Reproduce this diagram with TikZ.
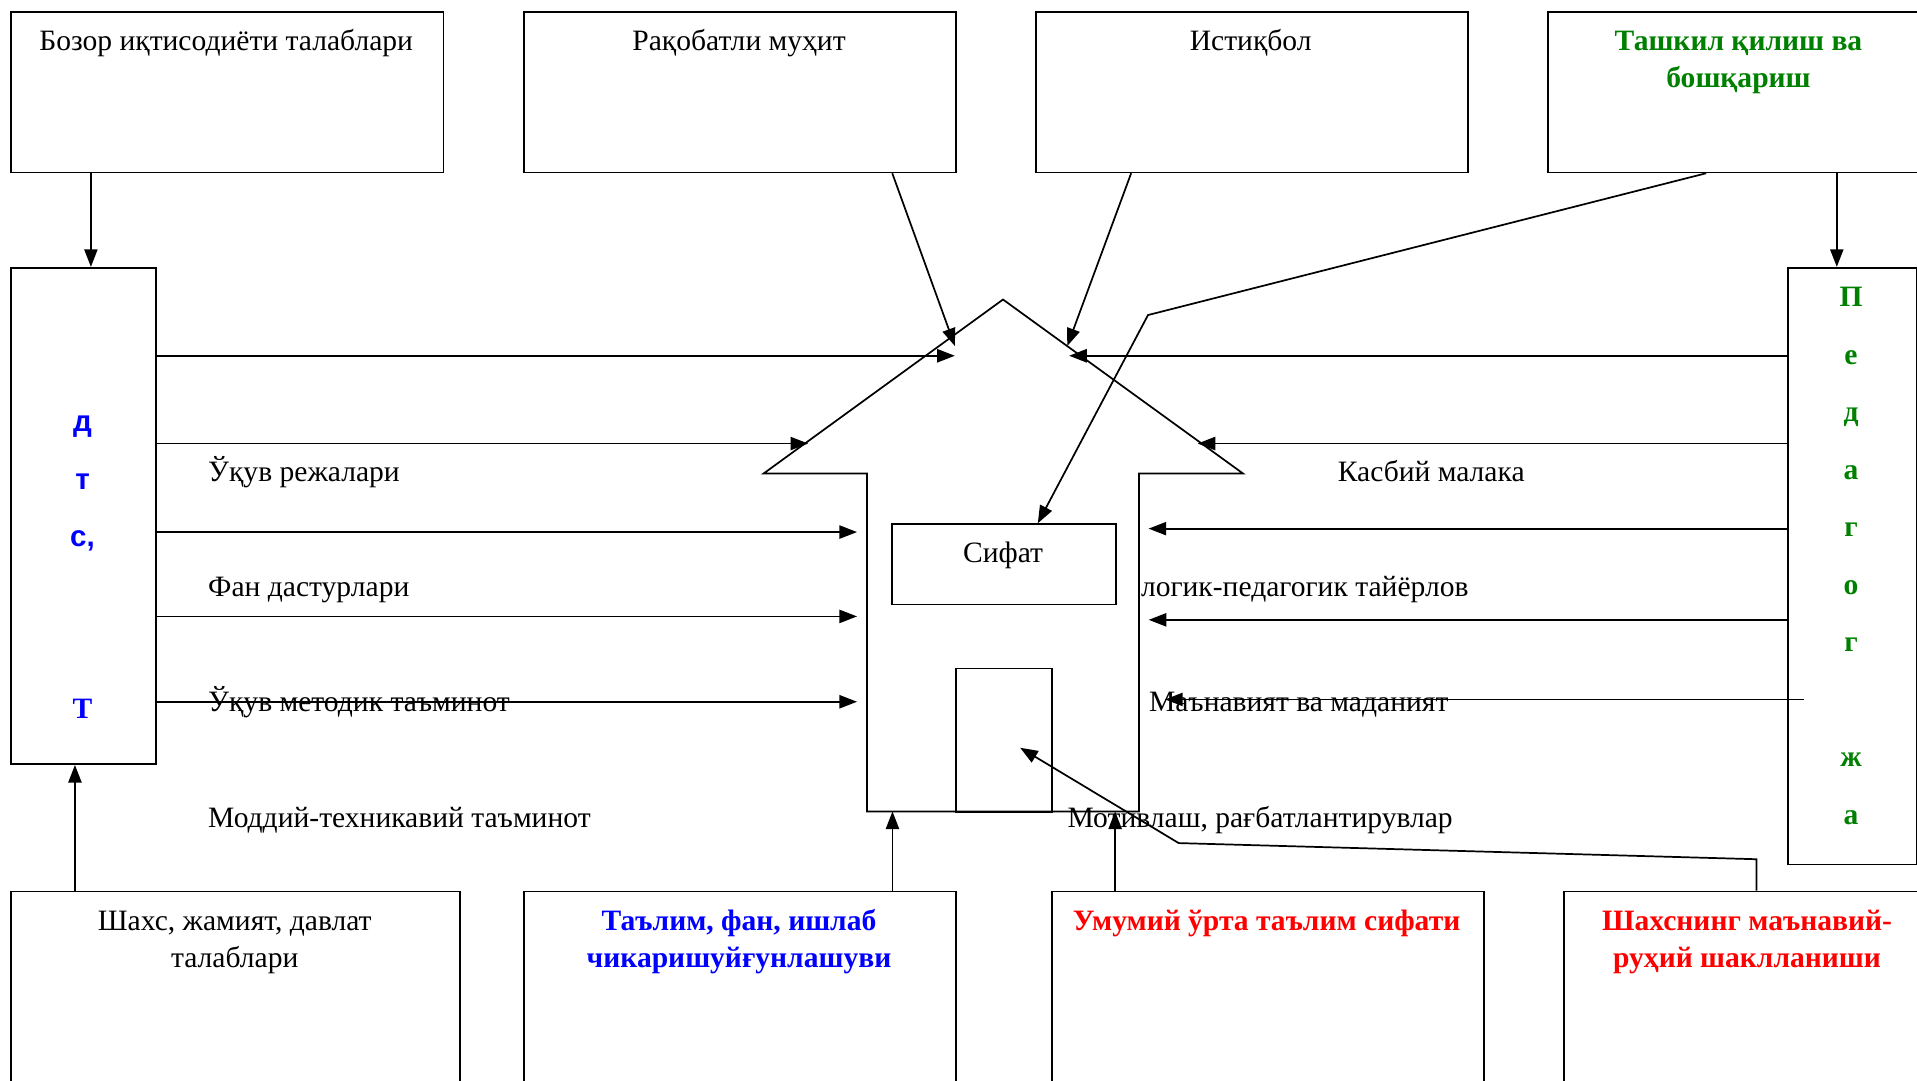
\documentclass[tikz,border=0pt]{standalone}
\usepackage{fontspec}
\setmainfont{Liberation Serif}
\newfontfamily\dtsfont{Liberation Sans}
\usepackage{xcolor}
\definecolor{darkgreen}{RGB}{0,128,0}
\definecolor{pureblue}{RGB}{0,0,255}
\definecolor{purered}{RGB}{255,0,0}
\usepackage{tikz}
\usetikzlibrary{calc}
\usetikzlibrary{arrows.meta}
\newcommand{\widthtop}{88.4mm}
\newcommand{\heighttop}{32.75mm}
\newcommand{\heightbottom}{50mm}
\newcommand{\textsize}{\fontsize{17.2pt}{7.5mm}\selectfont}
\tikzset{
    common/.style={anchor=north west, draw, rectangle, inner sep=0pt, line width=1pt},
    topbox/.style={common, minimum width=\widthtop, minimum height=\heighttop},
    bottombox/.style={common, minimum height=\heightbottom},
    caption/.style={anchor=base, align=center, inner sep=0pt, font=\textsize},
    boldcaption/.style={caption, font=\textsize\bfseries},
    flowlabel/.style={anchor=base west, inner sep=0pt, font=\textsize},
    letters/.style={anchor=base, align=center, inner sep=0pt, font=\bfseries\fontsize{17.2pt}{11.75mm}\selectfont},
    feed/.style={-{Triangle[length=3.6mm, width=2.7mm]}, line width=1pt},
    plain/.style={line width=1pt}
}
\begin{document}
\begin{tikzpicture}[x=0.25mm, y=-0.25mm]
    \useasboundingbox (0,0) rectangle (1568,884);

    \node[topbox] (bozor) at (8.5,9.3) {};
    \node[topbox] (raqobat) at (427.7,9.3) {};
    \node[topbox] (istiqbol) at (846.4,9.3) {};
    \node[topbox] (tashkil) at (1265.6,9.3) {};
    \node[caption] (bozortext) at (185,41.5) {Бозор иқтисодиёти талаблари};
    \node[caption] (raqobattext) at (604.5,41.5) {Рақобатли муҳит};
    \node[caption] (istiqboltext) at (1023,41.5) {Истиқбол};
    \node[boldcaption, darkgreen] (tashkiltext) at (1422,71.5) {Ташкил қилиш ва\\бошқариш};

    \node[common, minimum width=29.55mm, minimum height=101.5mm] (dts) at (8.5,218.3) {};
    \node[common, minimum width=26.2mm, minimum height=122mm] (ped) at (1462,218.3) {};
    \node[letters, pureblue] (dtstext) at (67.5,588) {\dtsfont д\\\dtsfont т\\\dtsfont с,\\ \\ \\Т};
    \node[letters, darkgreen] (pedtext) at (1514,674) {П\\е\\д\\а\\г\\о\\г\\ \\ж\\а};

    \coordinate (peak) at (820.4,245);
    \coordinate (lefteave) at (624.6,387.3);
    \coordinate (righteave) at (1016.7,387.3);
    \coordinate (houseleft) at (709.2,663.7);
    \coordinate (houseright) at (931.6,663.7);
    \draw[plain] (peak) -- (righteave) -- (houseright |- righteave) -- (houseright)
        -- (houseleft) -- (houseleft |- lefteave) -- (lefteave) -- cycle;
    \node[common, minimum width=45.75mm, minimum height=16.45mm] (sifat) at (729,428) {};
    \node[caption] (sifattext) at (820.5,460) {Сифат};
    \node[common, minimum width=19.65mm, minimum height=29.4mm] (door) at (781.4,546) {};

    \node[bottombox, minimum width=91.7mm] (shaxs) at (8.5,728.5) {};
    \node[bottombox, minimum width=\widthtop] (talim) at (427.7,728.5) {};
    \node[bottombox, minimum width=88.25mm] (umumiy) at (860,728.5) {};
    \node[bottombox, minimum width=\widthtop] (manaviy) at (1278.7,728.5) {};
    \node[caption] (shaxstext) at (192,791.5) {Шахс, жамият, давлат\\талаблари};
    \node[boldcaption, pureblue] (talimtext) at (604.5,791.5) {Таълим, фан, ишлаб\\чикаришуйғунлашуви};
    \node[boldcaption, purered] (umumiytext) at (1036,761) {Умумий ўрта таълим сифати};
    \node[boldcaption, purered] (manaviytext) at (1429,791.5) {Шахснинг маънавий-\\руҳий шаклланиши};

    \node[flowlabel] (rejalar) at (170,393.5) {Ўқув режалари};
    \node[flowlabel] (dasturlar) at (170,487.5) {Фан дастурлари};
    \node[flowlabel] (metodik) at (170,582) {Ўқув методик таъминот};
    \node[flowlabel] (moddiy) at (170,676.5) {Моддий-техникавий таъминот};
    \node[flowlabel] (malaka) at (1094,393.5) {Касбий малака};
    \node[flowlabel] (tayyorlov) at (933,487.5) {логик-педагогик тайёрлов};
    \node[flowlabel] (madaniyat) at (939.6,582) {Маънавият ва маданият};
    \node[flowlabel] (motivlash) at (873,676.5) {Мотивлаш, рағбатлантирувлар};

    \coordinate (dtsA) at (781,291);
    \coordinate (dtsB) at (661,362.8);
    \coordinate (dtsC) at (701,435.2);
    \coordinate (dtsD) at (701,504.2);
    \coordinate (dtsE) at (701,574);
    \coordinate (pedA) at (874.5,291);
    \coordinate (pedB) at (979.6,362.8);
    \coordinate (pedC) at (939.5,432.4);
    \coordinate (pedD) at (939.6,507);
    \coordinate (pedE) at (953,572.1);
    \coordinate (pedEstart) at (1475.5,572.1);
    \draw[feed] (dts.east |- dtsA) -- (dtsA);
    \draw[feed] (dts.east |- dtsB) -- (dtsB);
    \draw[feed] (dts.east |- dtsC) -- (dtsC);
    \draw[feed] (dts.east |- dtsD) -- (dtsD);
    \draw[feed] (dts.east |- dtsE) -- (dtsE);
    \draw[feed] (ped.west |- pedA) -- (pedA);
    \draw[feed] (ped.west |- pedB) -- (pedB);
    \draw[feed] (ped.west |- pedC) -- (pedC);
    \draw[feed] (ped.west |- pedD) -- (pedD);
    \draw[feed] (pedEstart) -- (pedE);

    \coordinate (raqobattip) at (781,283);
    \coordinate (istiqboltip) at (873,283);
    \coordinate (tashkilbend) at (939,257.7);
    \coordinate (manaviybend) at (964.1,689.6);
    \coordinate (doortip) at (834.4,611.6);
    \draw[feed] ($(bozor.south west)!0.1855!(bozor.south east)$) coordinate (bozorfoot)
        -- (bozorfoot |- dts.north);
    \draw[feed] ($(raqobat.south west)!0.851!(raqobat.south east)$) -- (raqobattip);
    \draw[feed] ($(istiqbol.south west)!0.222!(istiqbol.south east)$) -- (istiqboltip);
    \draw[feed] ($(tashkil.south west)!0.366!(tashkil.south east)$) -- (tashkilbend)
        -- ($(sifat.north west)!0.65!(sifat.north east)$);
    \draw[feed] ($(tashkil.south west)!0.667!(tashkil.south east)$) coordinate (tashkilfoot)
        -- (tashkilfoot |- ped.north);
    \draw[feed] ($(shaxs.north west)!0.1434!(shaxs.north east)$) coordinate (shaxshead)
        -- (shaxshead |- dts.south);
    \draw[feed] ($(talim.north west)!0.8515!(talim.north east)$) coordinate (talimhead)
        -- (talimhead |- houseleft);
    \draw[feed] ($(umumiy.north west)!0.147!(umumiy.north east)$) coordinate (umumiyhead)
        -- (umumiyhead |- houseright);
    \draw[feed] ($(manaviy.north west)!0.445!(manaviy.north east)$) -- ++(0,-25.7)
        -- (manaviybend) -- (doortip);
\end{tikzpicture}
\end{document}
